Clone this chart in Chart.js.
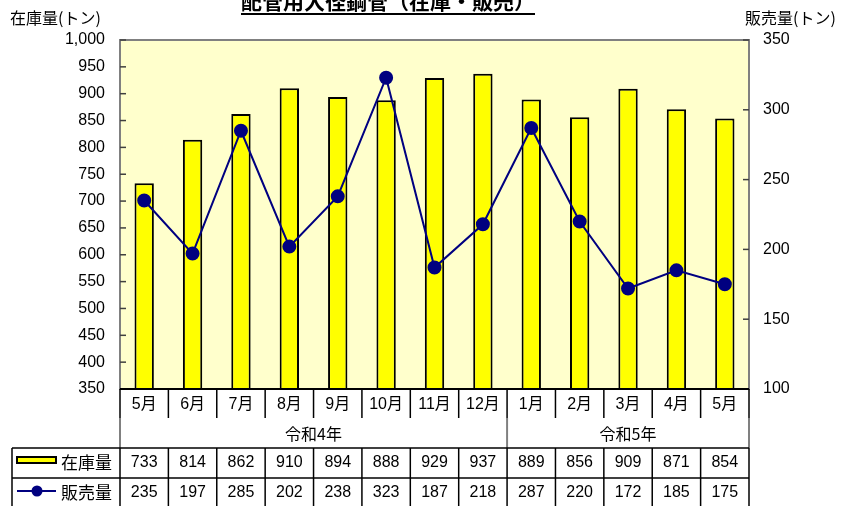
<!DOCTYPE html>
<html>
<head>
<meta charset="utf-8">
<script src="https://cdn.jsdelivr.net/npm/chart.js@4.4.1/dist/chart.umd.min.js"></script>
<style>
  html, body { margin: 0; padding: 0; background: #fff; }
  #wrap { width: 843px; height: 506px; }
</style>
</head>
<body>
<div id="wrap"><canvas id="c" width="843" height="506"></canvas></div>
<script>
// data
const months = ['5月', '6月', '7月', '8月', '9月', '10月', '11月', '12月', '1月', '2月', '3月', '4月', '5月'];
const yearLabels = ['令和4年', '令和5年'];
const yearSpans = [8, 5];
const stock = [733, 814, 862, 910, 894, 888, 929, 937, 889, 856, 909, 871, 854];
const sales = [235, 197, 285, 202, 238, 323, 187, 218, 287, 220, 172, 185, 175];
const stockAxis = [350, 1000, 50];
const salesAxis = [100, 350, 50];

const JP = '"Noto Sans CJK JP", sans-serif';
const NUM = '"Liberation Sans", "Noto Sans CJK JP", sans-serif';

const tablePlugin = {
    id: 'tablePlugin',
    beforeDraw: function(chart) {
        const ctx = chart.ctx;
        const a = chart.chartArea;
        ctx.save();
        ctx.fillStyle = '#FFFFCC';
        ctx.fillRect(a.left, a.top, a.right - a.left, a.bottom - a.top);
        ctx.restore();
    },
    afterDraw: function(chart) {
        const ctx = chart.ctx;
        const a = chart.chartArea;
        const x = chart.scales.x;
        const yl = chart.scales.y;
        const yr = chart.scales.y1;
        const n = months.length;

        ctx.save();
        // plot frame
        ctx.strokeStyle = '#808080';
        ctx.lineWidth = 2;
        ctx.strokeRect(a.left, a.top, a.right - a.left, a.bottom - a.top);

        // inward tick marks
        ctx.strokeStyle = '#404040';
        ctx.lineWidth = 1.5;
        yl.ticks.forEach(t => {
            const py = yl.getPixelForValue(t.value);
            ctx.beginPath(); ctx.moveTo(a.left, py); ctx.lineTo(a.left + 6, py); ctx.stroke();
        });
        yr.ticks.forEach(t => {
            const py = yr.getPixelForValue(t.value);
            ctx.beginPath(); ctx.moveTo(a.right - 6, py); ctx.lineTo(a.right, py); ctx.stroke();
        });

        // column edges from the category scale
        const edges = [a.left];
        for (let i = 1; i < n; i++) {
            edges.push((x.getPixelForValue(i - 1) + x.getPixelForValue(i)) / 2);
        }
        edges.push(a.right);

        const mTop = a.bottom, mBot = a.bottom + 29, yBot = a.bottom + 59;
        const r1Bot = yBot + 30, r2Bot = r1Bot + 30;
        const tableLeft = 12;

        const line = (x1, y1, x2, y2, w, c) => {
            ctx.strokeStyle = c; ctx.lineWidth = w;
            ctx.beginPath(); ctx.moveTo(x1, y1); ctx.lineTo(x2, y2); ctx.stroke();
        };

        // month row
        line(a.left, mTop, a.right, mTop, 2, '#000');
        edges.forEach(e => line(e, mTop, e, mBot, 1.5, '#000'));

        // year row boundaries
        let idx = 0;
        const groupEdges = [0];
        yearSpans.forEach(s => { idx += s; groupEdges.push(idx); });
        groupEdges.forEach(g => {
            line(edges[g], mBot, edges[g], yBot, 2, '#808080');
        });

        // data rows
        line(tableLeft, yBot, a.right, yBot, 1.5, '#000');
        line(tableLeft, r1Bot, a.right, r1Bot, 1.5, '#000');
        line(tableLeft, r2Bot, a.right, r2Bot, 1.5, '#000');
        line(tableLeft, yBot, tableLeft, r2Bot, 1.5, '#000');
        edges.forEach(e => line(e, yBot, e, r2Bot, 1.5, '#000'));

        // texts
        ctx.fillStyle = '#000';
        ctx.textAlign = 'center';
        ctx.textBaseline = 'middle';
        ctx.font = '16px ' + NUM;
        months.forEach((m, i) => ctx.fillText(m, x.getPixelForValue(i), mTop + 16));
        ctx.font = '16px ' + JP;
        yearLabels.forEach((lab, k) => {
            const cx = (edges[groupEdges[k]] + edges[groupEdges[k + 1]]) / 2;
            ctx.fillText(lab, cx, mBot + 16);
        });
        ctx.font = '16px ' + NUM;
        stock.forEach((v, i) => ctx.fillText(String(v), x.getPixelForValue(i), yBot + 15));
        sales.forEach((v, i) => ctx.fillText(String(v), x.getPixelForValue(i), r1Bot + 15));

        // legend keys in the table
        ctx.fillStyle = '#FFFF00';
        ctx.fillRect(17, yBot + 9, 39, 6);
        ctx.strokeStyle = '#000'; ctx.lineWidth = 2;
        ctx.strokeRect(17, yBot + 9, 39, 6);
        line(17, r1Bot + 13, 56, r1Bot + 13, 2, '#000080');
        ctx.fillStyle = '#000080';
        ctx.beginPath(); ctx.arc(37, r1Bot + 13, 5.5, 0, Math.PI * 2); ctx.fill();

        ctx.fillStyle = '#000';
        ctx.textAlign = 'left';
        ctx.font = '17px ' + JP;
        ctx.fillText('在庫量', 61, yBot + 15);
        ctx.fillText('販売量', 61, r1Bot + 15);

        // axis titles
        ctx.font = '16px ' + JP;
        ctx.fillText('在庫量(トン)', 10, 18);
        ctx.fillText('販売量(トン)', 745, 18);

        // title, cut off at the top
        ctx.font = 'bold 21px ' + JP;
        ctx.textAlign = 'center';
        const title = '配管用大径鋼管（在庫・販売）';
        const tw = ctx.measureText(title).width;
        ctx.fillText(title, 388, 1);
        line(388 - tw / 2, 14, 388 + tw / 2, 14, 2, '#000');
        ctx.restore();
    }
};

new Chart(document.getElementById('c'), {
    data: {
        labels: months,
        datasets: [{
            type: 'line',
            label: '販売量',
            data: sales,
            yAxisID: 'y1',
            borderColor: '#000080',
            borderWidth: 2,
            pointRadius: 6,
            pointBackgroundColor: '#000080',
            pointBorderColor: '#000080',
            tension: 0,
            order: 0
        }, {
            type: 'bar',
            label: '在庫量',
            data: stock,
            yAxisID: 'y',
            backgroundColor: '#FFFF00',
            borderColor: '#000000',
            borderWidth: 2,
            barPercentage: 0.4,
            categoryPercentage: 1,
            order: 1
        }]
    },
    options: {
        responsive: false,
        devicePixelRatio: 1,
        animation: false,
        layout: { padding: { top: 40, bottom: 117, left: 0, right: 0 } },
        plugins: { legend: { display: false }, tooltip: { enabled: false } },
        scales: {
            x: { type: 'category', display: false, offset: true },
            y: {
                position: 'left',
                min: stockAxis[0], max: stockAxis[1],
                ticks: { stepSize: stockAxis[2], padding: 15, color: '#000', font: { family: NUM, size: 16 } },
                grid: { display: false, drawTicks: false },
                border: { display: false },
                afterFit: function(scale) { scale.width = 120; }
            },
            y1: {
                position: 'right',
                min: salesAxis[0], max: salesAxis[1],
                ticks: { stepSize: salesAxis[2], padding: 14, color: '#000', font: { family: NUM, size: 16 } },
                grid: { display: false, drawTicks: false },
                border: { display: false },
                afterFit: function(scale) { scale.width = 94; }
            }
        }
    },
    plugins: [tablePlugin]
});
</script>
</body>
</html>
